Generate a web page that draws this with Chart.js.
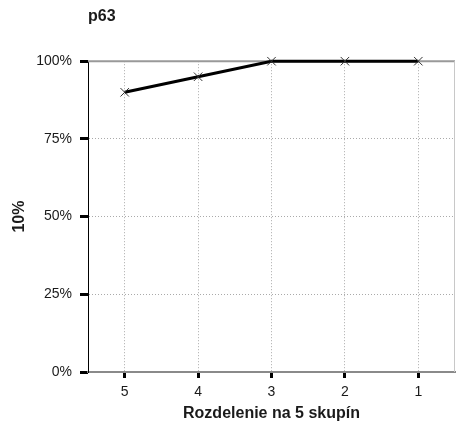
<!DOCTYPE html>
<html>
<head>
<meta charset="utf-8">
<script src="https://cdn.jsdelivr.net/npm/chart.js@4/dist/chart.umd.min.js"></script>
<style>
  html, body { margin: 0; padding: 0; background: #fff; }
  #wrap { width: 456px; height: 430px; }
</style>
</head>
<body>
<div id="wrap"><canvas id="c" width="456" height="430"></canvas></div>
<script>
const categories = ["5", "4", "3", "2", "1"];
const values = [90, 95, 100, 100, 100];
const yTicks = [0, 25, 50, 75, 100];
const chartTitle = "p63";
const xTitle = "Rozdelenie na 5 skupín";
const yTitle = "10%";

const FONT = "'Liberation Sans', Arial, sans-serif";
const TEXT = "#1a1a1a";

const boxPlugin = {
  id: 'boxPlugin',
  beforeDatasetsDraw(chart) {
    const {ctx, chartArea: a} = chart;
    ctx.save();
    ctx.strokeStyle = '#999';
    ctx.lineWidth = 2;
    ctx.beginPath();
    ctx.moveTo(a.left, a.top); ctx.lineTo(a.right, a.top);
    ctx.stroke();
    ctx.strokeStyle = '#c8c8c8';
    ctx.lineWidth = 1;
    ctx.beginPath();
    ctx.moveTo(a.right - 0.5, a.top); ctx.lineTo(a.right - 0.5, a.bottom);
    ctx.stroke();
    ctx.restore();
  }
};

new Chart(document.getElementById('c'), {
  type: 'line',
  data: {
    labels: categories,
    datasets: [{
      data: values,
      borderColor: '#000',
      borderWidth: 3,
      tension: 0,
      fill: false,
      clip: false,
      pointStyle: 'crossRot',
      pointRadius: 6,
      pointBorderWidth: 1,
      pointBorderColor: '#333',
      pointBackgroundColor: '#333'
    }]
  },
  options: {
    responsive: false,
    animation: false,
    layout: { autoPadding: false, padding: { left: 0, right: 1, top: 0, bottom: 0 } },
    plugins: {
      legend: { display: false },
      tooltip: { enabled: false },
      title: {
        display: true,
        text: chartTitle,
        align: 'start',
        fullSize: false,
        color: TEXT,
        font: { family: FONT, size: 16, weight: 'bold' },
        padding: { top: 7, bottom: 35 }
      }
    },
    scales: {
      x: {
        type: 'category',
        offset: true,
        afterFit(s) { s.height = 58; s.paddingLeft = 0; s.paddingRight = 0; },
        grid: {
          display: true,
          color: '#aaa',
          lineWidth: 1,
          drawTicks: true,
          tickLength: 6,
          tickWidth: 3,
          tickColor: '#000',
          tickBorderDash: []
        },
        border: { display: true, color: '#8a8a8a', width: 2, dash: [1, 2] },
        ticks: {
          color: TEXT,
          font: { family: FONT, size: 14 },
          padding: 6,
          maxRotation: 0
        },
        title: {
          display: true,
          text: xTitle,
          color: TEXT,
          font: { family: FONT, size: 16, weight: 'bold' },
          padding: { top: 4, bottom: 7 }
        }
      },
      y: {
        min: 0,
        max: 100,
        afterFit(s) { s.width = 88; },
        afterBuildTicks(s) { s.ticks = yTicks.map(v => ({ value: v })); },
        grid: {
          display: true,
          color: '#aaa',
          lineWidth: 1,
          drawTicks: true,
          tickLength: 8,
          tickWidth: 3,
          tickColor: '#000',
          tickBorderDash: []
        },
        border: { display: true, color: '#000', width: 1, dash: [1, 2] },
        ticks: {
          color: TEXT,
          font: { family: FONT, size: 14 },
          padding: 8,
          callback: v => v + '%'
        },
        title: {
          display: true,
          text: yTitle,
          color: TEXT,
          font: { family: FONT, size: 16, weight: 'bold' },
          padding: { top: 10, bottom: 0 }
        }
      }
    }
  },
  plugins: [boxPlugin]
});
</script>
</body>
</html>
